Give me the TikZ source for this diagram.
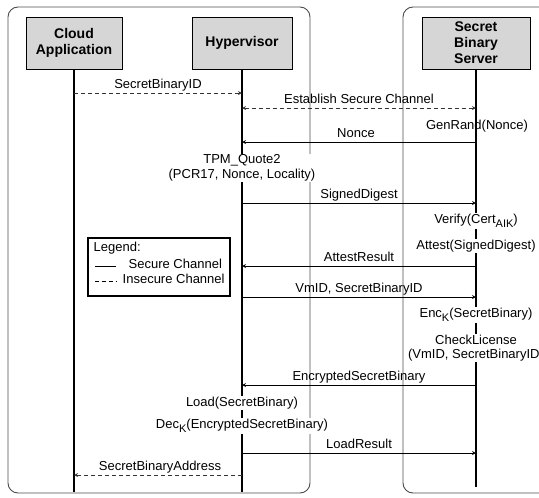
\documentclass[tikz,border=0pt]{standalone}
\usepackage{fontspec}
\setmainfont{Liberation Sans}
\usetikzlibrary{positioning}
\newcommand\lowsub[1]{\raisebox{-4pt}{\fontsize{11}{11}\selectfont #1}}
\tikzset{
  actor/.style={draw=black,fill=black!16,line width=0.9pt,minimum height=52pt,
    font=\fontsize{14}{16}\selectfont\bfseries,align=center,inner sep=2pt},
  lifeline/.style={line width=1.1pt},
  msglabel/.style={font=\fontsize{13}{15}\selectfont,text height=0.72em,text depth=0.22em,inner sep=2.5pt},
  action/.style={font=\fontsize{13}{14.5}\selectfont,align=center,fill=white,inner sep=1pt},
  secure/.style={-stealth,line width=0.8pt},
  insecure/.style={-stealth,line width=0.8pt,black!80,dash pattern=on 4pt off 3pt},
  frame/.style={draw=black!70,line width=0.9pt,rounded corners=10pt}
}
\begin{document}
\begin{tikzpicture}[x=1pt,y=-1pt]
      \useasboundingbox (0,0) rectangle (539,498);
      % outer frames
      \draw[frame] (8,7) rectangle (310,493);
      \draw[frame] (403,7) rectangle (570,493);
      % actors
      \node[actor,minimum width=96pt] (cloud) at (74,43) {Cloud\\Application};
      \node[actor,minimum width=100pt] (hyp) at (242,43) {Hypervisor};
      \node[actor,minimum width=108pt] (srv) at (476,43) {Secret\\Binary\\Server};
      \coordinate (cloudend) at (74,492);
      \coordinate (hypend) at (242,492);
      \coordinate (srvend) at (476,487);
      \draw[lifeline] (cloud.south) -- (cloudend);
      \draw[lifeline] (hyp.south) -- (hypend);
      \draw[lifeline] (srv.south) -- (srvend);
      % messages
      \node[msglabel,above] (l1) at (158,93) {SecretBinaryID};
      \draw[insecure] (cloud |- l1.south) -- (hyp |- l1.south);
      \node[msglabel,above] (l2) at (359,108) {Establish Secure Channel};
      \draw[insecure,stealth-stealth] (hyp |- l2.south) -- (srv |- l2.south);
      \node[font=\fontsize{13}{15}\selectfont] (a1) at (477,126) {GenRand(Nonce)};
      \node[msglabel,above] (l3) at (356,142) {Nonce};
      \draw[secure] (srv |- l3.south) -- (hyp |- l3.south);
      \node[action] (a2) at (242,168) {TPM\_Quote2\\(PCR17, Nonce, Locality)};
      \node[msglabel,above] (l4) at (359,203) {SignedDigest};
      \draw[secure] (hyp |- l4.south) -- (srv |- l4.south);
      \node[action] (a3) at (476,221) {Verify(Cert\lowsub{AIK})};
      \node[action] (a4) at (476,246) {Attest(SignedDigest)};
      \node[msglabel,above] (l5) at (359,266) {AttestResult};
      \draw[secure] (srv |- l5.south) -- (hyp |- l5.south);
      \node[msglabel,above] (l6) at (359,297) {VmID, SecretBinaryID};
      \draw[secure] (hyp |- l6.south) -- (srv |- l6.south);
      \node[action] (a5) at (476,315) {Enc\lowsub{K}(SecretBinary)};
      \node[action] (a6) at (476,348) {CheckLicense\\(VmID, SecretBinaryID)};
      \node[msglabel,above] (l7) at (359,385) {EncryptedSecretBinary};
      \draw[secure] (srv |- l7.south) -- (hyp |- l7.south);
      \node[action] (a7) at (242,403) {Load(SecretBinary)};
      \node[action] (a8) at (242,426) {Dec\lowsub{K}(EncryptedSecretBinary)};
      \node[msglabel,above] (l8) at (359,453) {LoadResult};
      \draw[secure] (hyp |- l8.south) -- (srv |- l8.south);
      \node[msglabel,above] (l9) at (160,475) {SecretBinaryAddress};
      \draw[insecure] (hyp |- l9.south) -- (cloud |- l9.south);
      % legend
      \node[draw,line width=1.6pt,minimum width=142pt,minimum height=58pt] (legend) at (159,267) {};
      \node[msglabel,anchor=west] (lg) at (91,249) {Legend:};
      \draw[line width=0.8pt] (95,266) -- (116,266);
      \node[msglabel,anchor=west] (lgs) at (126,266) {Secure Channel};
      \draw[line width=0.8pt,dash pattern=on 4pt off 3pt] (95,281) -- (117,281);
      \node[msglabel,anchor=west] (lgi) at (120,281) {Insecure Channel};
    \end{tikzpicture}
\end{document}
